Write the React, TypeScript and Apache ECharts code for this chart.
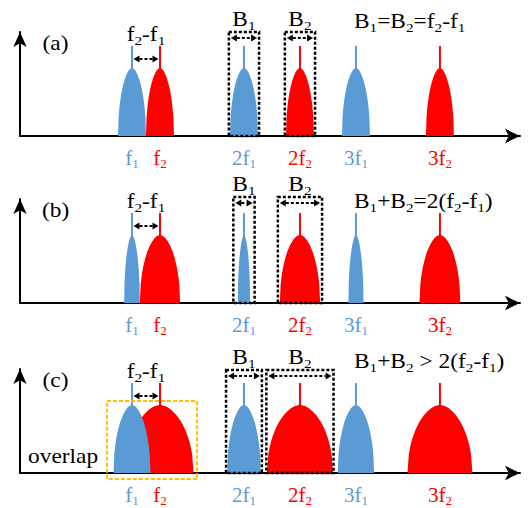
import React, { useEffect, useRef } from 'react';
import * as echarts from 'echarts';

const BLUE = '#5B9BD5';
const RED = '#FF0000';
const GOLD = '#FFC000';
const F = 'Liberation Serif';

// fundamental frequencies (arbitrary units)
const f1 = 4;
const f2 = 5;
// harmonics drawn in every panel: order and source (1 = f1, 2 = f2)
const harmonicOrder = [1, 1, 2, 2, 3, 3];
const harmonicSource = [1, 2, 1, 2, 1, 2];
const harmonicPrefix = ['f', 'f', '2f', '2f', '3f', '3f'];

const panelLabels = ['(a)', '(b)', '(c)'];
// half bandwidth of every harmonic, per panel
const halfWidthA = [0.5, 0.5, 0.5, 0.5, 0.5, 0.5];
const halfWidthB = [0.28, 0.72, 0.22, 0.72, 0.27, 0.73];
const halfWidthC = [0.66, 1.2, 0.6, 1.18, 0.65, 1.16];
const halfWidths = [halfWidthA, halfWidthB, halfWidthC];

const peakHeight = 68;
const spikeHeight = 90;

// B1 / B2 brackets around 2f1 and 2f2
const boxHarmonics = [2, 3];
const boxLabels = ['{m|B}{s|1}', '{m|B}{s|2}'];
const boxHalfA = [0.54, 0.54];
const boxHalfB = [0.38, 0.79];
const boxHalfC = [0.64, 1.2];
const boxHalves = [boxHalfA, boxHalfB, boxHalfC];
const boxTops = [104, 106, 103];

const equations = [
  '{m|B}{s|1}{m|=B}{s|2}{m|=f}{s|2}{m|-f}{s|1}',
  '{m|B}{s|1}{m|+B}{s|2}{m|=2(f}{s|2}{m|-f}{s|1}{m|)}',
  '{m|B}{s|1}{m|+B}{s|2}{m| > 2(f}{s|2}{m|-f}{s|1}{m|)}',
];
const equationY = [114, 101, 111];
const diffLabel = '{m|f}{s|2}{m|-f}{s|1}';
const overlapLabel = '{m|overlap}';
const overlapBox = [3.11, 6.32, -6, 72];

const xMax = 17.86;
const yMax = 104;
const gridTops = [32, 199, 369];
const STRETCH = 1.17;

const RICH: any = {
  m: { fontFamily: F, fontSize: 20, lineHeight: 24, color: '#000' },
  s: { fontFamily: F, fontSize: 13, lineHeight: 14, color: '#000', verticalAlign: 'bottom' },
};

const AXIS_RICH: any = {
  b: { fontFamily: F, fontSize: 21, lineHeight: 24, color: BLUE },
  bs: { fontFamily: F, fontSize: 13, lineHeight: 14, color: BLUE, verticalAlign: 'bottom' },
  r: { fontFamily: F, fontSize: 21, lineHeight: 24, color: RED },
  rs: { fontFamily: F, fontSize: 13, lineHeight: 14, color: RED, verticalAlign: 'bottom' },
};

const freqOf = (i: number) => harmonicOrder[i] * (harmonicSource[i] === 1 ? f1 : f2);
const tickValues = harmonicOrder.map((_, i) => freqOf(i));

function text(p: number[], str: string, align: string = 'center') {
  return {
    type: 'text',
    x: p[0],
    y: p[1],
    scaleX: STRETCH,
    style: { text: str, rich: RICH, align, verticalAlign: 'middle' },
  };
}

function dblArrow(xa: number, xb: number, y: number) {
  const head = 6;
  const hh = 3.5;
  return [
    { type: 'line', shape: { x1: xa + head, y1: y, x2: xb - head, y2: y }, style: { stroke: '#000', lineWidth: 2, lineDash: [3, 2] } },
    { type: 'polygon', shape: { points: [[xa, y], [xa + head, y - hh], [xa + head, y + hh]] }, style: { fill: '#000' } },
    { type: 'polygon', shape: { points: [[xb, y], [xb - head, y - hh], [xb - head, y + hh]] }, style: { fill: '#000' } },
  ];
}

function peakSeries(p: number) {
  const data = harmonicOrder
    .map((_, i) => [freqOf(i), halfWidths[p][i], harmonicSource[i]])
    .sort((a, b) => b[2] - a[2]);
  return {
    type: 'custom',
    xAxisIndex: p,
    yAxisIndex: p,
    data,
    renderItem: (params: any, api: any) => {
      const c = api.value(0);
      const hw = api.value(1);
      const color = api.value(2) === 1 ? BLUE : RED;
      const pts: number[][] = [];
      const N = 48;
      for (let k = 0; k <= N; k++) {
        const t = -1 + (2 * k) / N;
        const h = peakHeight * Math.pow(Math.max(0, 1 - Math.pow(Math.abs(t), 1.8)), 0.5);
        pts.push(api.coord([c + t * hw, h]));
      }
      const top = api.coord([c, peakHeight]);
      const sp = api.coord([c, spikeHeight]);
      return {
        type: 'group',
        children: [
          { type: 'polygon', shape: { points: pts }, style: { fill: color } },
          { type: 'line', shape: { x1: top[0], y1: top[1] + 2, x2: sp[0], y2: sp[1] }, style: { stroke: color, lineWidth: 2 } },
        ],
      };
    },
  };
}

function annotationSeries(p: number) {
  return {
    type: 'custom',
    xAxisIndex: p,
    yAxisIndex: p,
    data: [[0, 0]],
    renderItem: (params: any, api: any) => {
      const c = (x: number, y: number) => api.coord([x, y]);
      const children: any[] = [];
      children.push(text(c(1.27, 92), '{m|' + panelLabels[p] + '}'));
      const a0 = c(f1, 77);
      const a1 = c(f2, 77);
      children.push(...dblArrow(a0[0] + 1.5, a1[0] - 1.5, a0[1]));
      children.push(text(c((f1 + f2) / 2, 101), diffLabel));
      boxHarmonics.forEach((hi, j) => {
        const center = freqOf(hi);
        const half = boxHalves[p][j];
        const tl = c(center - half, boxTops[p]);
        const br = c(center + half, 0);
        children.push({
          type: 'rect',
          shape: { x: tl[0], y: tl[1], width: br[0] - tl[0], height: br[1] - tl[1] },
          style: { fill: 'none', stroke: '#000', lineWidth: 2.5, lineDash: [3, 2] },
        });
        const ay = c(center, boxTops[p] - 6)[1];
        children.push(...dblArrow(tl[0] + 2, br[0] - 2, ay));
        children.push(text(c(center, boxTops[p] + 12), boxLabels[j]));
      });
      children.push(text(c(11.93, equationY[p]), equations[p], 'left'));
      if (p === 2) {
        const tl = c(overlapBox[0], overlapBox[3]);
        const br = c(overlapBox[1], overlapBox[2]);
        children.push({
          type: 'rect',
          shape: { x: tl[0], y: tl[1], width: br[0] - tl[0], height: br[1] - tl[1] },
          style: { fill: 'none', stroke: GOLD, lineWidth: 2, lineDash: [4, 2] },
        });
        children.push(text(c(1.54, 16), overlapLabel));
      }
      return { type: 'group', children };
    },
  };
}

export default function App() {
  const ref = useRef<HTMLDivElement>(null);
  useEffect(() => {
    if (!ref.current) return;
    const chart = echarts.init(ref.current, null, { renderer: 'svg' });
    const panels = [0, 1, 2];
    chart.setOption({
      animation: false,
      grid: panels.map((p) => ({ left: 20, top: gridTops[p], width: 500, height: 104 })),
      xAxis: panels.map((p) => ({
        type: 'value',
        gridIndex: p,
        min: 0,
        max: xMax,
        interval: 1,
        splitLine: { show: false },
        axisTick: { show: false },
        axisLine: {
          show: true,
          symbol: ['none', 'arrow'],
          symbolSize: [11, 15],
          lineStyle: { color: '#000', width: 2 },
        },
        axisLabel: {
          margin: 10,
          showMaxLabel: false,
          formatter: (v: number) => {
            const i = tickValues.findIndex((t) => Math.abs(t - v) < 1e-6);
            if (i < 0) return '';
            const k = harmonicSource[i] === 1 ? 'b' : 'r';
            return '{' + k + '|' + harmonicPrefix[i] + '}{' + k + 's|' + harmonicSource[i] + '}';
          },
          rich: AXIS_RICH,
        },
      })),
      yAxis: panels.map((p) => ({
        type: 'value',
        gridIndex: p,
        min: 0,
        max: yMax,
        splitLine: { show: false },
        axisTick: { show: false },
        axisLabel: { show: false },
        axisLine: {
          show: true,
          symbol: ['none', 'arrow'],
          symbolSize: [10, 15],
          lineStyle: { color: '#000', width: 2 },
        },
      })),
      series: [...panels.map((p) => peakSeries(p)), ...panels.map((p) => annotationSeries(p))],
    });
    return () => chart.dispose();
  }, []);
  return <div ref={ref} style={{ position: 'absolute', left: 0, top: 0, width: 530, height: 508 }} />;
}
